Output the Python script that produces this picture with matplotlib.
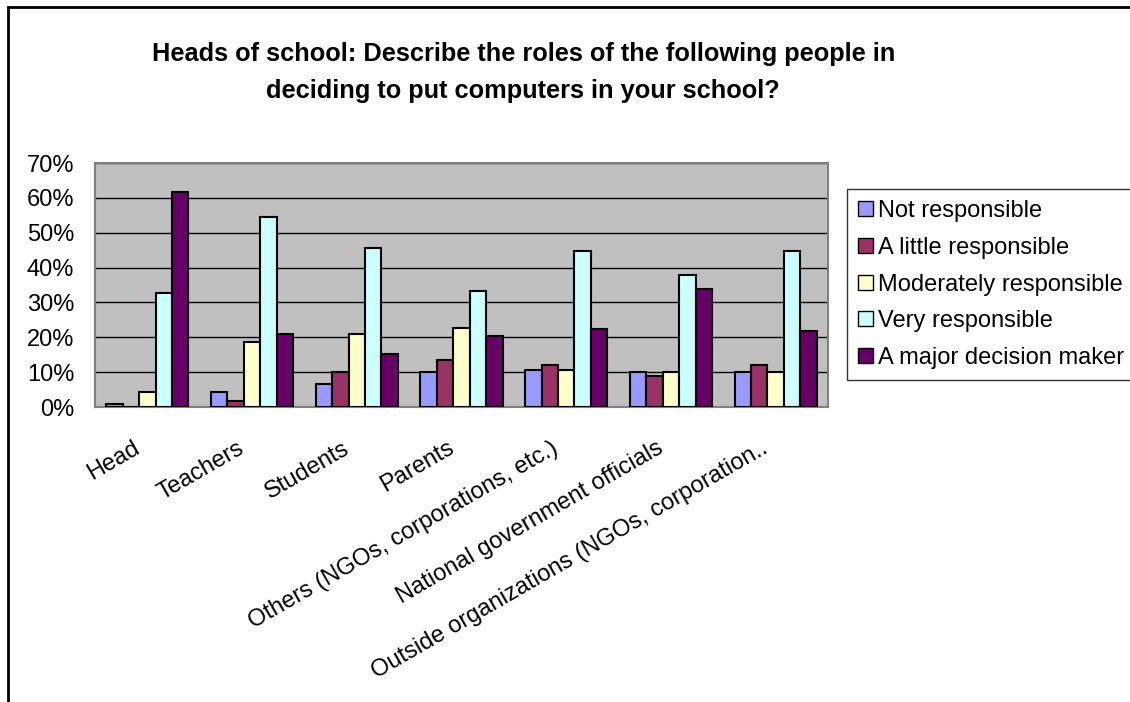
"""
Heads of school: roles in deciding to put computers in school
"""
import matplotlib
matplotlib.use('Agg')
import matplotlib.pyplot as plt
import matplotlib.patches as mpatches
import matplotlib.transforms as mtransforms
import numpy as np

plt.rcParams['font.family'] = ['Liberation Sans', 'DejaVu Sans']

categories = ['Head', 'Teachers', 'Students', 'Parents',
              'Others (NGOs, corporations, etc.)',
              'National government officials',
              'Outside organizations (NGOs, corporation..']
series_names = ['Not responsible', 'A little responsible', 'Moderately responsible',
                'Very responsible', 'A major decision maker']
not_resp = [1.0, 4.2, 6.7, 10.0, 10.5, 10.0, 10.0]
little_resp = [0.0, 1.6, 10.0, 13.5, 12.0, 8.9, 12.0]
moderate_resp = [4.2, 18.7, 20.9, 22.7, 10.5, 10.0, 10.0]
very_resp = [32.7, 54.6, 45.7, 33.3, 44.7, 38.0, 44.7]
major_maker = [61.8, 20.9, 15.1, 20.3, 22.4, 33.9, 21.9]
colors = ['#9999FF', '#993366', '#FFFFCC', '#CCFFFF', '#660066']

series = [not_resp, little_resp, moderate_resp, very_resp, major_maker]

fig = plt.figure(figsize=(11.3, 7.02), dpi=100)
ax = fig.add_axes([0.0841, 0.4202, 0.6487, 0.3476])
ax.set_facecolor('#C0C0C0')

x = np.arange(len(categories))
width = 0.157
for i, (vals, name, col) in enumerate(zip(series, series_names, colors)):
    ax.bar(x + (i - 2) * width, vals, width, label=name, color=col,
           edgecolor='black', linewidth=1.5, zorder=3)

ax.set_xlim(-0.5, len(categories) - 0.5)
ax.set_ylim(0, 70)
ax.set_yticks(range(0, 71, 10))
ax.set_yticklabels([f'{v}%' for v in range(0, 71, 10)], fontsize=17)
ax.yaxis.grid(True, color='black', linewidth=1.0, zorder=0)
ax.set_axisbelow(True)
ax.tick_params(axis='y', length=0, pad=15)
ax.tick_params(axis='x', length=0, pad=8)
ax.set_xticks(x)
ax.set_xticklabels(categories, fontsize=17, rotation=30, ha='right',
                   rotation_mode='anchor')
# nudge the slanted labels down and left
shift = mtransforms.ScaledTranslation(-0.15, -0.19, fig.dpi_scale_trans)
for lbl in ax.get_xticklabels():
    lbl.set_transform(lbl.get_transform() + shift)
for s in ax.spines.values():
    s.set_color('#808080')
    s.set_linewidth(1.5)

fig.text(0.463, 0.923, 'Heads of school: Describe the roles of the following people in',
         ha='center', va='center', fontsize=18.3, fontweight='bold')
fig.text(0.463, 0.870, 'deciding to put computers in your school?',
         ha='center', va='center', fontsize=18.3, fontweight='bold')

leg = ax.legend(loc='upper left', bbox_to_anchor=(0.7496, 0.7308),
                bbox_transform=fig.transFigure, borderaxespad=0,
                fontsize=17, frameon=True, fancybox=False, edgecolor='black',
                handlelength=0.6, handleheight=0.6, handletextpad=0.25,
                labelspacing=0.62, borderpad=0.48)
leg.get_frame().set_linewidth(1.0)
for h in leg.legend_handles:
    h.set_linewidth(1.0)

# outer chart border
fig.add_artist(mpatches.Rectangle((8 / 1130, -0.1), 1.5, 1 - 7 / 702 + 0.1,
                                  transform=fig.transFigure, fill=False,
                                  edgecolor='black', linewidth=2))

plt.savefig('out.png', dpi=100)
plt.close()
